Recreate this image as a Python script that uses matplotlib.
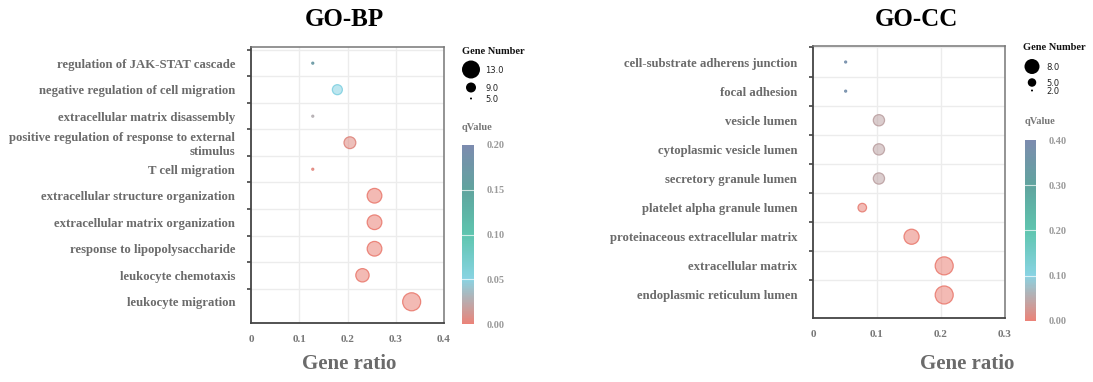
import numpy as np
import matplotlib
matplotlib.use("Agg")
import matplotlib.pyplot as plt
from matplotlib.colors import LinearSegmentedColormap, Normalize
from matplotlib.cm import ScalarMappable

# ---------------- data ----------------
bp_terms = [
    "regulation of JAK-STAT cascade",
    "negative regulation of cell migration",
    "extracellular matrix disassembly",
    "positive regulation of response to external\nstimulus",
    "T cell migration",
    "extracellular structure organization",
    "extracellular matrix organization",
    "response to lipopolysaccharide",
    "leukocyte chemotaxis",
    "leukocyte migration",
]
bp_ratio = [0.128, 0.179, 0.128, 0.205, 0.128, 0.256, 0.256, 0.256, 0.231, 0.333]
bp_count = [5, 7, 5, 8, 5, 10, 10, 10, 9, 13]
bp_q = [0.17, 0.05, 0.028, 0.006, 0.004, 0.0, 0.0, 0.0, 0.0, 0.0]
bp_legend = [13.0, 9.0, 5.0]
bp_qticks = [0.00, 0.05, 0.10, 0.15, 0.20]
bp_xticks = [0, 0.1, 0.2, 0.3, 0.4]

cc_terms = [
    "cell-substrate adherens junction",
    "focal adhesion",
    "vesicle lumen",
    "cytoplasmic vesicle lumen",
    "secretory granule lumen",
    "platelet alpha granule lumen",
    "proteinaceous extracellular matrix",
    "extracellular matrix",
    "endoplasmic reticulum lumen",
]
cc_ratio = [0.051, 0.051, 0.103, 0.103, 0.103, 0.077, 0.154, 0.205, 0.205]
cc_count = [2, 2, 4, 4, 4, 3, 6, 8, 8]
cc_q = [0.38, 0.38, 0.045, 0.045, 0.045, 0.004, 0.0, 0.0, 0.0]
cc_legend = [8.0, 5.0, 2.0]
cc_qticks = [0.00, 0.10, 0.20, 0.30, 0.40]
cc_xticks = [0, 0.1, 0.2, 0.3]

# ---------------- style ----------------
W, H = 1093, 382
fig = plt.figure(figsize=(W / 100, H / 100), dpi=100)
SERIF = ["Liberation Serif", "DejaVu Serif"]
GRAY = "#6b6b6b"

cmap = LinearSegmentedColormap.from_list(
    "q", [(0.0, "#e9766a"), (0.25, "#7ccfe0"), (0.5, "#4dbfa6"),
          (0.75, "#4f9a94"), (1.0, "#6e7fa6")])


def diam(n, nmin, nmax, dmin=2.0, dmax=18.0, p=0.5):
    t = (np.asarray(n, float) - nmin) / (nmax - nmin)
    return dmin + (dmax - dmin) * np.clip(t, 0, 1) ** p


def panel(rect, terms, ratio, count, q, qmax, xticks, xlim, top_pad, bot_pad):
    ax = fig.add_axes(rect)
    n = len(terms)
    ypos = np.arange(n)[::-1]
    norm = Normalize(0, qmax)
    cols = cmap(norm(np.asarray(q)))
    face = cols.copy()
    face[:, 3] = 0.5
    edge = cols.copy()
    edge[:, 3] = 0.85
    d = diam(count, min(count), max(count))
    s = (d * 0.72) ** 2
    ax.scatter(ratio, ypos, s=s, c=face, edgecolors=edge, linewidths=0.9, zorder=3)
    ax.set_xlim(*xlim)
    ax.set_ylim(-bot_pad, n - 1 + top_pad)
    for yb in ypos + 0.5:
        ax.axhline(yb, color="#ececec", lw=1.0, zorder=1)
    for xv in xticks[1:]:
        ax.axvline(xv, color="#ececec", lw=1.0, zorder=1)
    ax.set_xticks(xticks)
    ax.set_xticklabels([("%g" % v) for v in xticks], fontfamily=SERIF,
                       fontweight="bold", fontsize=8, color="#777777")
    ax.tick_params(axis="x", length=0, pad=9)
    ax.set_yticks(ypos + 0.5)
    ax.set_yticklabels([])
    ax.tick_params(axis="y", which="major", length=3, width=1.2, color="#444444")
    ax.set_yticks(ypos, minor=True)
    ax.set_yticklabels(terms, minor=True, fontfamily=SERIF, fontweight="bold",
                       fontsize=9.2, color=GRAY, ha="right", linespacing=1.15)
    ax.tick_params(axis="y", which="minor", length=0, pad=11.5)
    for side in ["left", "bottom"]:
        ax.spines[side].set_color("#444444")
        ax.spines[side].set_linewidth(1.3)
    for side in ["top", "right"]:
        ax.spines[side].set_color("#777777")
        ax.spines[side].set_linewidth(1.1)
    return ax, norm


def colorbar(rect, norm, ticks):
    cax = fig.add_axes(rect)
    cb = fig.colorbar(ScalarMappable(norm=norm, cmap=cmap), cax=cax)
    cb.outline.set_visible(False)
    cb.solids.set_alpha(0.9)
    cax.set_yticks(ticks)
    cax.set_yticklabels(["%.2f" % t for t in ticks], fontfamily=SERIF,
                        fontweight="bold", fontsize=7.5, color="#9a9a9a")
    cax.tick_params(length=0, pad=9)
    for t in ticks[1:-1]:
        cax.axhline(t, color="white", lw=0.8, alpha=0.7)


ax1, n1 = panel([251 / W, 1 - 323 / H, (444 - 251) / W, (323 - 47) / H],
                bp_terms, bp_ratio, bp_count, bp_q, 0.2, bp_xticks, (0, 0.4), 0.61, 0.8)
ax2, n2 = panel([813 / W, 1 - 317.7 / H, (1005 - 813) / W, (317.7 - 46) / H],
                cc_terms, cc_ratio, cc_count, cc_q, 0.4, cc_xticks, (0, 0.3), 0.55, 0.78)

colorbar([462 / W, 1 - 324 / H, 12 / W, 179 / H], n1, bp_qticks)
colorbar([1025 / W, 1 - 320.7 / H, 11 / W, 180.7 / H], n2, cc_qticks)

ov = fig.add_axes([0, 0, 1, 1], zorder=10)
ov.set_xlim(0, W)
ov.set_ylim(H, 0)
ov.axis("off")
ov.patch.set_alpha(0)


def size_legend(x, ytitle, ys, vals, dmax):
    ov.text(x, ytitle, "Gene Number", fontfamily=SERIF, fontweight="bold",
            fontsize=7.5, color="#111111", ha="left", va="center")
    d = diam(vals, min(vals), max(vals), 2.0, dmax, p=1.0)
    ov.scatter([x + 9] * len(vals), ys, s=(d * 0.72) ** 2, c="black", linewidths=0)
    for yy, v in zip(ys, vals):
        ov.text(x + 23, yy, "%.1f" % v, fontfamily="DejaVu Sans", fontsize=6,
                color="#222222", ha="left", va="center_baseline")


size_legend(462, 52, [69.5, 87.5, 98.5], bp_legend, 18)
size_legend(1023, 48, [66.5, 82.5, 90.5], cc_legend, 15)
ov.text(462, 128, "qValue", fontfamily=SERIF, fontweight="bold", fontsize=7.5,
        color="#777777", ha="left", va="center")
ov.text(1025, 122, "qValue", fontfamily=SERIF, fontweight="bold", fontsize=7.5,
        color="#777777", ha="left", va="center")

for x, t in [(344, "GO-BP"), (916, "GO-CC")]:
    ov.text(x, 19, t, fontfamily=SERIF, fontweight="bold", fontsize=18,
            color="black", ha="center", va="center")
for x in [349.5, 967]:
    ov.text(x, 364, "Gene ratio", fontfamily=SERIF, fontweight="bold",
            fontsize=15, color="#6b6b6b", ha="center", va="center")

fig.savefig("out.png", dpi=100)
